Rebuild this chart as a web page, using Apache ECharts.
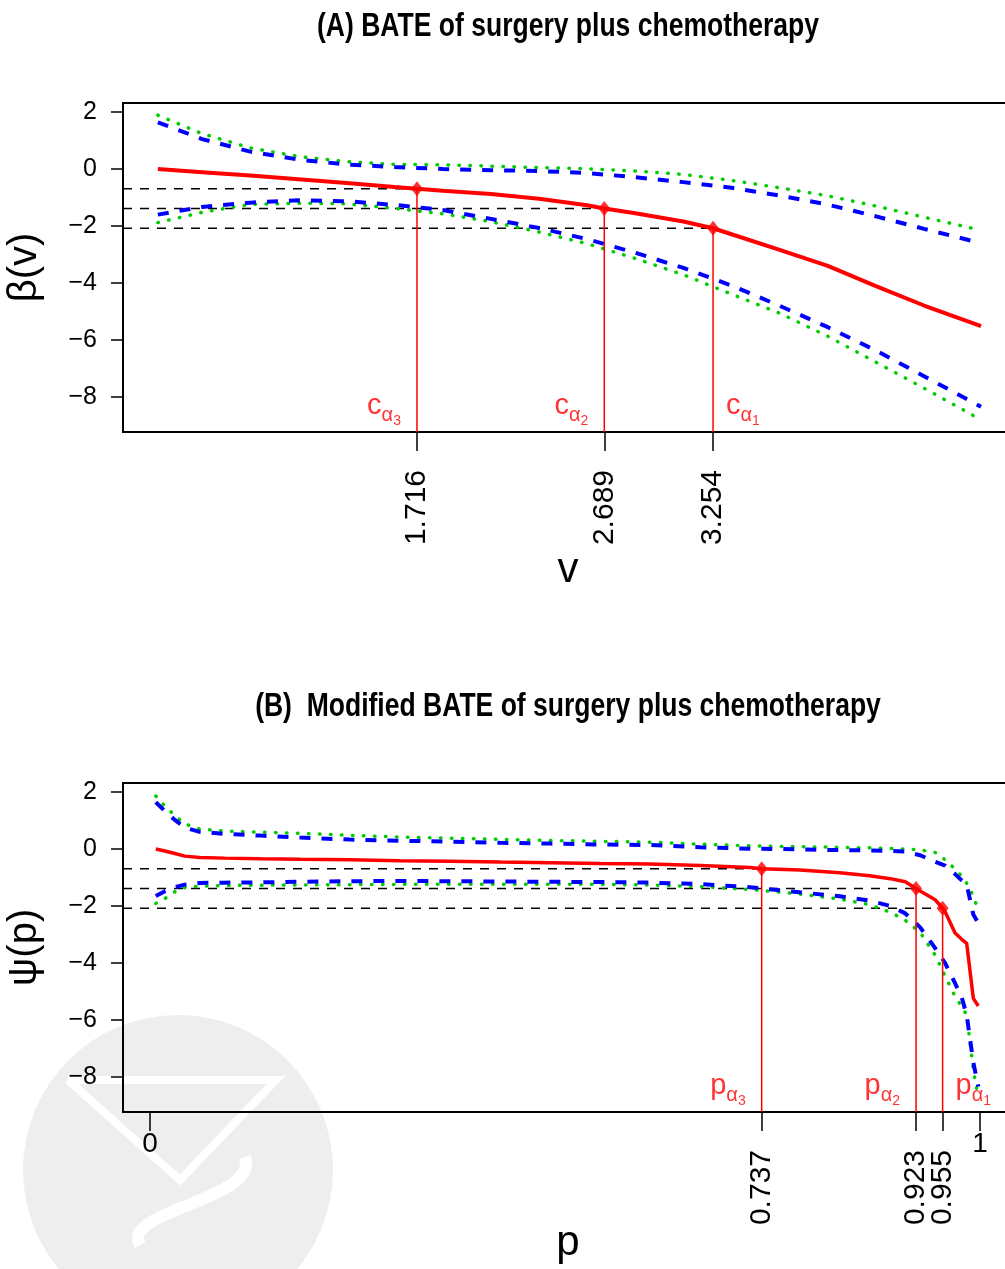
<!DOCTYPE html>
<html>
<head>
<meta charset="utf-8">
<script src="https://cdn.jsdelivr.net/npm/echarts@6/dist/echarts.min.js"></script>
<style>
html, body { margin: 0; padding: 0; background: #fff; }
#chart { width: 1005px; height: 1269px; }
</style>
</head>
<body>
<div id="chart"></div>
<script>
// ---- Panel A: BATE beta(v) with pointwise (dashed) and simultaneous (dotted) bands ----
const vGrid         = [0.37, 0.60, 0.85, 1.10, 1.35, 1.60, 1.85, 2.10, 2.35, 2.60, 2.85, 3.10, 3.35, 3.60, 3.85, 4.10, 4.35, 4.646];
const betaPwUpper   = [1.64, 1.05, 0.61, 0.33, 0.16, 0.07, 0.00, -0.04, -0.07, -0.14, -0.29, -0.46, -0.66, -0.93, -1.25, -1.66, -2.10, -2.60];
const betaPwLower   = [-1.60, -1.33, -1.18, -1.10, -1.13, -1.26, -1.44, -1.75, -2.07, -2.46, -2.94, -3.47, -4.09, -4.80, -5.55, -6.37, -7.27, -8.34];
const betaSimUpper  = [1.89, 1.24, 0.74, 0.44, 0.26, 0.16, 0.15, 0.10, 0.05, 0.01, -0.07, -0.19, -0.40, -0.66, -0.94, -1.30, -1.69, -2.15];
const betaSimLower  = [-1.88, -1.52, -1.24, -1.20, -1.22, -1.38, -1.57, -1.85, -2.21, -2.62, -3.14, -3.71, -4.39, -5.06, -5.87, -6.78, -7.69, -8.80];
const vEst          = [0.37, 0.60, 0.85, 1.10, 1.35, 1.60, 1.716, 1.85, 2.10, 2.35, 2.60, 2.689, 2.85, 3.10, 3.254, 3.35, 3.60, 3.85, 4.10, 4.35, 4.646];
const betaEst       = [0.00, -0.11, -0.23, -0.36, -0.49, -0.63, -0.693, -0.76, -0.88, -1.04, -1.27, -1.386, -1.55, -1.84, -2.079, -2.29, -2.84, -3.40, -4.11, -4.79, -5.51];

// ---- Panel B: modified BATE psi(p) ----
const pGrid         = [0.007, 0.018, 0.030, 0.042, 0.060, 0.090, 0.133, 0.181, 0.241, 0.301, 0.361, 0.422, 0.482, 0.542, 0.602, 0.663, 0.723, 0.783, 0.831, 0.867, 0.892, 0.910, 0.928, 0.946, 0.958, 0.970, 0.978, 0.984, 0.992, 0.998];
const psiPwUpper    = [1.64, 1.33, 1.02, 0.75, 0.60, 0.53, 0.47, 0.40, 0.33, 0.29, 0.26, 0.22, 0.19, 0.16, 0.14, 0.06, 0.01, -0.01, -0.04, -0.05, -0.07, -0.09, -0.22, -0.45, -0.58, -0.88, -1.10, -1.25, -2.30, -2.60];
const psiPwLower    = [-1.65, -1.48, -1.34, -1.25, -1.19, -1.18, -1.17, -1.15, -1.13, -1.12, -1.13, -1.14, -1.15, -1.16, -1.18, -1.23, -1.34, -1.52, -1.66, -1.81, -2.00, -2.26, -2.75, -3.48, -4.00, -4.71, -5.20, -5.83, -7.49, -8.34];
const psiSimUpper   = [1.86, 1.50, 1.18, 0.88, 0.70, 0.63, 0.59, 0.55, 0.48, 0.42, 0.38, 0.34, 0.30, 0.27, 0.24, 0.17, 0.11, 0.08, 0.06, 0.04, 0.02, 0.00, -0.03, -0.12, -0.38, -0.70, -0.95, -1.20, -1.65, -2.15];
const psiSimLower   = [-1.91, -1.74, -1.50, -1.35, -1.30, -1.28, -1.27, -1.26, -1.25, -1.24, -1.24, -1.24, -1.24, -1.24, -1.26, -1.32, -1.42, -1.58, -1.76, -1.95, -2.22, -2.50, -2.93, -3.72, -4.46, -5.17, -5.53, -5.82, -7.75, -8.75];
const pEst          = [0.007, 0.018, 0.030, 0.042, 0.060, 0.090, 0.133, 0.181, 0.241, 0.301, 0.361, 0.422, 0.482, 0.542, 0.602, 0.663, 0.723, 0.737, 0.783, 0.831, 0.867, 0.892, 0.910, 0.923, 0.928, 0.946, 0.955, 0.958, 0.970, 0.978, 0.984, 0.992, 0.998];
const psiEst        = [0.00, -0.07, -0.16, -0.25, -0.30, -0.32, -0.34, -0.36, -0.38, -0.41, -0.43, -0.46, -0.48, -0.51, -0.53, -0.58, -0.65, -0.693, -0.74, -0.83, -0.94, -1.04, -1.15, -1.386, -1.47, -1.78, -2.079, -2.20, -2.95, -3.17, -3.31, -5.24, -5.51];

// ---- Critical points: levels log(1/2), log(1/4), log(1/8) ----
const cutLevels  = [-0.693, -1.386, -2.079];
const cutV       = [1.716, 2.689, 3.254];
const cutP       = [0.737, 0.923, 0.955];
const alphaIndex = [3, 2, 1];

// ---- Axis ranges and ticks ----
const yRange     = [-9.228, 2.316];
const yTicks     = [-8, -6, -4, -2, 0, 2];
const vRange     = [0.189, 4.812];
const pRange     = [-0.0325, 1.0398];
const pEndTicks  = [0, 1];

const RED = '#ff0000', BLUE = '#0000ff', GREEN = '#00cc00';
const NARROW = '"Liberation Sans Narrow", "Arial Narrow", "Liberation Sans", sans-serif';
const SANS = '"Liberation Sans", Arial, sans-serif';

const zip = (xs, ys) => xs.map((x, i) => [x, ys[i]]);
const minusFmt = v => String(v).replace('-', '\u2212');

function gridAxes(top) {
  return {
    left: 123, top: top, width: 890, height: 329,
    outerBoundsMode: 'none', containLabel: false,
    show: true, borderColor: '#000', borderWidth: 2, backgroundColor: 'transparent'
  };
}

function yAxisDef(gridIndex, name) {
  return {
    type: 'value', gridIndex, min: yRange[0], max: yRange[1],
    name, nameLocation: 'middle', nameGap: 78,
    nameTextStyle: { fontFamily: SANS, fontSize: 40, color: '#000' },
    axisLine: { show: true, onZero: false, lineStyle: { color: '#000', width: 2 } },
    axisTick: { show: true, length: 12, customValues: yTicks, lineStyle: { color: '#000', width: 1.5 } },
    axisLabel: { customValues: yTicks, formatter: minusFmt, margin: 26, fontFamily: NARROW, fontSize: 25, color: '#000', hideOverlap: false },
    splitLine: { show: false }
  };
}

function xAxisDef(gridIndex, range, extra) {
  return Object.assign({
    type: 'value', gridIndex, min: range[0], max: range[1], position: 'bottom',
    axisLine: { show: true, onZero: false, lineStyle: { color: '#000', width: 2 } },
    splitLine: { show: false }
  }, extra);
}

// an extra bottom axis carrying only rotated labels and ticks at the given values
function cutAxis(gridIndex, range, values) {
  return xAxisDef(gridIndex, range, {
    axisLine: { show: false, onZero: false },
    axisTick: { show: true, length: 19, customValues: values, lineStyle: { color: '#000', width: 1.5 } },
    axisLabel: rotatedLabels(values)
  });
}

function rotatedLabels(values) {
  return { customValues: values, rotate: 90, margin: 38, fontFamily: SANS, fontSize: 30, color: '#000', hideOverlap: false };
}

function bandSeries(xi, yi, xs, ys, color, dotted) {
  return {
    type: 'line', xAxisIndex: xi, yAxisIndex: yi, data: zip(xs, ys),
    showSymbol: false, symbol: 'none', silent: true, z: dotted ? 3 : 4,
    lineStyle: dotted
      ? { color, width: 3.5, type: [0.5, 10.5], cap: 'round' }
      : { color, width: 4, type: [11, 11], cap: 'butt' }
  };
}

function cutSeries(xi, yi, xMin, cuts) {
  const out = [];
  cuts.forEach((c, i) => {
    out.push({
      type: 'line', xAxisIndex: xi, yAxisIndex: yi, silent: true, symbol: 'none', z: 2,
      data: [[xMin, cutLevels[i]], [c, cutLevels[i]]],
      lineStyle: { color: '#000', width: 1.5, type: [9, 8] }
    });
    out.push({
      type: 'line', xAxisIndex: xi, yAxisIndex: yi, silent: true, symbol: 'none', z: 5,
      data: [[c, cutLevels[i]], [c, yRange[0]]],
      lineStyle: { color: RED, width: 1.5 }
    });
  });
  out.push({
    type: 'scatter', xAxisIndex: xi, yAxisIndex: yi, silent: true, z: 7,
    symbol: 'diamond', symbolSize: [12, 15],
    itemStyle: { color: RED },
    data: zip(cuts, cutLevels)
  });
  return out;
}

function labelSeries(xi, yi, cuts, letter, yPos, sides) {
  return {
    type: 'scatter', xAxisIndex: xi, yAxisIndex: yi, silent: true, z: 8,
    symbolSize: 0,
    data: cuts.map((c, i) => ({
      value: [c, yPos, alphaIndex[i]],
      label: { position: sides[i], distance: sides[i] === 'left' ? 16 : 13 }
    })),
    label: {
      show: true,
      formatter: d => '{b|' + letter + '}{a|\u03b1}{n|' + d.value[2] + '}',
      rich: {
        b: { fontFamily: NARROW, fontSize: 29, color: RED, verticalAlign: 'bottom', padding: [0, 0, 8, 0] },
        a: { fontFamily: NARROW, fontSize: 20, color: RED, verticalAlign: 'bottom', padding: [0, 0, 3, 0] },
        n: { fontFamily: NARROW, fontSize: 14, color: RED, verticalAlign: 'bottom', padding: [0, 0, 0, 0] }
      }
    },
    labelLayout: { hideOverlap: false }
  };
}

const chart = echarts.init(document.getElementById('chart'), null, { renderer: 'canvas' });

const option = {
  backgroundColor: '#fff',
  animation: false,
  graphic: [
    // faint circular mark behind the lower panel
    { type: 'circle', shape: { cx: 178, cy: 1170, r: 155 }, style: { fill: '#eeeeee' }, z: -10, silent: true },
    { type: 'polyline', shape: { points: [[68, 1080], [276, 1080], [180, 1180], [68, 1080]] }, style: { stroke: '#fff', lineWidth: 8, fill: null }, z: -9, silent: true },
    { type: 'bezierCurve', shape: { x1: 245, y1: 1157, x2: 140, y2: 1245, cpx1: 260, cpy1: 1200, cpx2: 120, cpy2: 1210 }, style: { stroke: '#fff', lineWidth: 12, fill: null }, z: -9, silent: true },
    { type: 'text', x: 568, y: 27, scaleX: 0.78,
      style: { text: '(A) BATE of surgery plus chemotherapy', font: 'bold 34px "Liberation Sans", Arial, sans-serif', fill: '#000', align: 'center', verticalAlign: 'middle' } },
    { type: 'text', x: 568, y: 707, scaleX: 0.78,
      style: { text: '(B)  Modified BATE of surgery plus chemotherapy', font: 'bold 34px "Liberation Sans", Arial, sans-serif', fill: '#000', align: 'center', verticalAlign: 'middle' } }
  ],
  grid: [gridAxes(103), gridAxes(783)],
  xAxis: [
    xAxisDef(0, vRange, {
      name: 'v', nameLocation: 'middle', nameGap: 108,
      nameTextStyle: { fontFamily: SANS, fontSize: 42, color: '#000' },
      axisTick: { show: true, length: 19, customValues: cutV, lineStyle: { color: '#000', width: 1.5 } },
      axisLabel: rotatedLabels(cutV)
    }),
    xAxisDef(1, pRange, {
      name: 'p', nameLocation: 'middle', nameGap: 110,
      nameTextStyle: { fontFamily: SANS, fontSize: 42, color: '#000' },
      axisTick: { show: true, length: 19, customValues: pEndTicks, lineStyle: { color: '#000', width: 1.5 } },
      axisLabel: { customValues: pEndTicks, margin: 18, fontFamily: NARROW, fontSize: 28, color: '#000', hideOverlap: false }
    }),
    cutAxis(1, pRange, cutP.slice(0, 2)),
    cutAxis(1, pRange, cutP.slice(2))
  ],
  yAxis: [yAxisDef(0, '\u03b2(v)'), yAxisDef(1, '\u03c8(p)')],
  series: [
    // panel A
    ...cutSeries(0, 0, vRange[0], cutV),
    bandSeries(0, 0, vGrid, betaSimUpper, GREEN, true),
    bandSeries(0, 0, vGrid, betaSimLower, GREEN, true),
    bandSeries(0, 0, vGrid, betaPwUpper, BLUE, false),
    bandSeries(0, 0, vGrid, betaPwLower, BLUE, false),
    { type: 'line', xAxisIndex: 0, yAxisIndex: 0, data: zip(vEst, betaEst), symbol: 'none', silent: true, z: 6,
      lineStyle: { color: RED, width: 4 } },
    labelSeries(0, 0, cutV, 'c', -8.45, ['left', 'left', 'right']),
    // panel B
    ...cutSeries(1, 1, pRange[0], cutP),
    bandSeries(1, 1, pGrid, psiSimUpper, GREEN, true),
    bandSeries(1, 1, pGrid, psiSimLower, GREEN, true),
    bandSeries(1, 1, pGrid, psiPwUpper, BLUE, false),
    bandSeries(1, 1, pGrid, psiPwLower, BLUE, false),
    { type: 'line', xAxisIndex: 1, yAxisIndex: 1, data: zip(pEst, psiEst), symbol: 'none', silent: true, z: 6,
      lineStyle: { color: RED, width: 3.5 } },
    labelSeries(1, 1, cutP, 'p', -8.45, ['left', 'left', 'right'])
  ]
};

chart.setOption(option);
</script>
</body>
</html>
